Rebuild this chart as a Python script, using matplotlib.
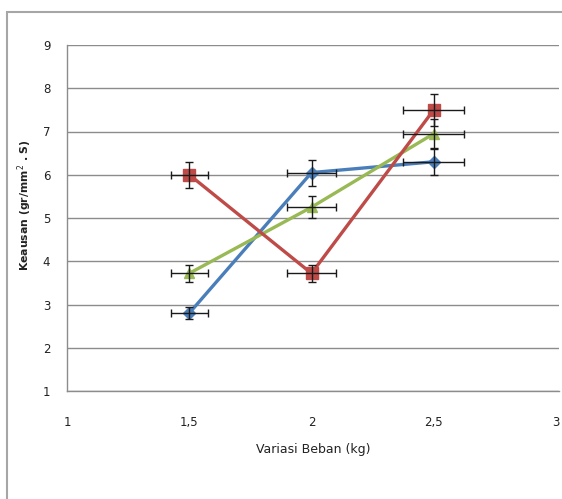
import matplotlib
matplotlib.use("Agg")
import matplotlib.pyplot as plt
from matplotlib.patches import Rectangle
from matplotlib.ticker import FuncFormatter

# Data
x_vals = [1.5, 2.0, 2.5]
blue_y = [2.80, 6.05, 6.30]
red_y = [6.00, 3.72, 7.50]
green_y = [3.72, 5.25, 6.95]
x_err = [0.075, 0.10, 0.125]
blue_yerr = [0.14, 0.30, 0.31]
red_yerr = [0.30, 0.19, 0.37]
green_yerr = [0.19, 0.26, 0.35]

x_ticks = [1, 1.5, 2, 2.5, 3]
y_ticks = [1, 2, 3, 4, 5, 6, 7, 8, 9]

W, H = 562, 499
fig = plt.figure(figsize=(W / 100, H / 100), dpi=100)
fig.patch.set_facecolor("white")

# outer chart border (cropped at right/bottom)
fig.patches.append(Rectangle((7 / W, -0.1), 1.2, 1 - 12 / H + 0.1,
                             transform=fig.transFigure, fill=False,
                             edgecolor="#a6a6a6", linewidth=1.5, zorder=0))

left, right, top, bottom = 67, 559, 45, 391
ax = fig.add_axes([left / W, 1 - bottom / H, (right - left) / W, (bottom - top) / H])
ax.set_xlim(1, 3 + 3 / 244.6)
ax.set_ylim(1, 9)
ax.set_xticks(x_ticks)
ax.set_yticks(y_ticks)
ax.xaxis.set_major_formatter(FuncFormatter(lambda v, p: ("%g" % v).replace(".", ",")))
ax.grid(axis="y", color="#8c8c8c", linewidth=1.0)
ax.set_axisbelow(True)
for s in ["top", "right"]:
    ax.spines[s].set_visible(False)
for s in ["left", "bottom"]:
    ax.spines[s].set_color("#8c8c8c")
    ax.spines[s].set_linewidth(1.0)
ax.tick_params(axis="both", labelsize=8.5, colors="#8c8c8c", labelcolor="#222222", length=0)
ax.tick_params(axis="x", pad=18)
ax.tick_params(axis="y", pad=12)

series = [
    (blue_y, blue_yerr, "#4a7ebb", "D", 6),
    (green_y, green_yerr, "#98b954", "^", 7),
    (red_y, red_yerr, "#be4b48", "s", 8.5),
]
for y, ye, c, m, ms in series:
    ax.plot(x_vals, y, color=c, linewidth=2.4, marker=m, markersize=ms,
            markeredgecolor=c, zorder=3)
for y, ye, c, m, ms in series:
    ax.errorbar(x_vals, y, xerr=x_err, yerr=ye, fmt="none", ecolor="#1a1a1a",
                elinewidth=1.0, capsize=3, capthick=1.0, zorder=4)

ax.set_xlabel("Variasi Beban (kg)", fontsize=9, color="#222222", labelpad=10)
fig.text(25 / W, 1 - 205 / H, r"Keausan (gr/mm$^{2}$ . S)", rotation=90,
         fontsize=7.8, fontweight="bold", color="#222222", ha="center", va="center")

fig.savefig("out.png", dpi=100, facecolor="white")
